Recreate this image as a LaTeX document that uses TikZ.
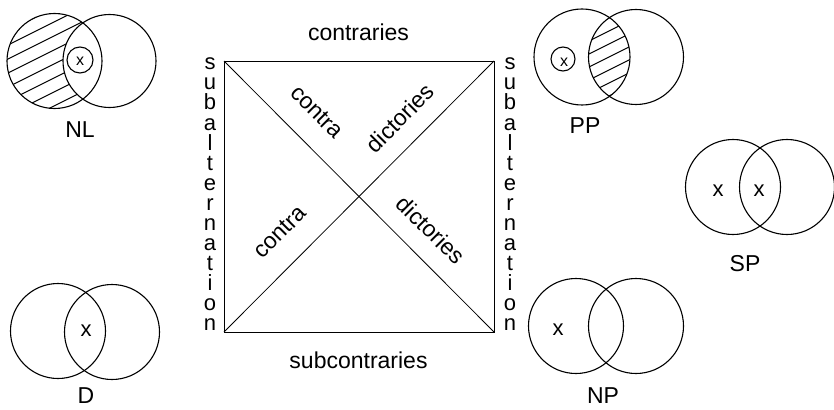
\documentclass[tikz,border=0pt]{standalone}
\usepackage{fontspec}
\setmainfont{Liberation Sans}
\begin{document}
\begin{tikzpicture}[x=1pt,y=-1pt,
  venn/.style={line width=1.1pt},
  hatchline/.style={line width=1.1pt},
  sqline/.style={line width=0.8pt},
  lbl/.style={inner sep=0pt, font=\fontsize{23}{24}\selectfont},
  mark x/.style={inner sep=0pt, font=\fontsize{22}{24}\selectfont},
  vlet/.style={inner sep=0pt, anchor=base, text height=13pt, text depth=0pt, font=\fontsize{22}{24}\selectfont}]
\useasboundingbox (0,0) rectangle (834,409);

% ---------- square of opposition ----------
\coordinate (TL) at (224,61);
\coordinate (TR) at (494,61);
\coordinate (BR) at (494,332);
\coordinate (BL) at (224,332);
\draw[sqline] (TL) -- (TR) -- (BR) -- (BL) -- cycle;
\draw[sqline] (TL) -- (BR);
\draw[sqline] (BL) -- (TR);

\node[lbl] (contraries) at (358.5,32) {contraries};
\node[lbl] (subcontraries) at (358.5,360) {subcontraries};
\node[lbl, rotate=-45] (contraA) at (317,112) {contra};
\node[lbl, rotate=45] (dictA) at (400,118) {dictories};
\node[lbl, rotate=45] (contraB) at (280,232) {contra};
\node[lbl, rotate=-45] (dictB) at (431,230) {dictories};

\foreach \c [count=\i from 0] in {s,u,b,a,l,t,e,r,n,a,t,i,o,n}{
  \node[vlet] (subL\i) at (210,70+20*\i) {\c};
  \node[vlet] (subR\i) at (510,70+20*\i) {\c};
}

% ---------- NL ----------
\begin{scope}
  \clip (54.5,61) circle (47.5);
  \foreach \k in {-7,...,7}
    \draw[hatchline] (0,61+14*\k+30) -- (120,61+14*\k-30);
\end{scope}
\fill[white] (109.5,61) circle (46.5);
\draw[venn] (54.5,61) circle (47.5);
\draw[venn] (109.5,61) circle (46.5);
\draw[venn] (80,60) circle (13);
\node[inner sep=0pt, font=\fontsize{16}{18}\selectfont] (nlx) at (80,61) {x};
\node[lbl] (NL) at (80,130) {NL};

% ---------- PP ----------
\begin{scope}
  \clip (582,57) circle (48);
  \clip (636,57) circle (47.5);
  \foreach \k in {-7,...,7}
    \draw[hatchline] (549,57+13*\k+30) -- (669,57+13*\k-30);
\end{scope}
\draw[venn] (582,57) circle (48);
\draw[venn] (636,57) circle (47.5);
\draw[venn] (563,59) circle (12);
\node[inner sep=0pt, font=\fontsize{16}{18}\selectfont] (ppx) at (564,62) {x};
\node[lbl] (PP) at (585,126) {PP};

% ---------- SP ----------
\draw[venn] (733,187) circle (47.5);
\draw[venn] (787,187) circle (47.5);
\node[mark x] (spx1) at (718,191) {x};
\node[mark x] (spx2) at (759,191) {x};
\node[lbl] (SP) at (745,264) {SP};

% ---------- D ----------
\draw[venn] (58,331) circle (47.5);
\draw[venn] (112,332) circle (47.5);
\node[mark x] (dx) at (86,331) {x};
\node[lbl] (D) at (86,396) {D};

% ---------- NP ----------
\draw[venn] (576,326) circle (47.5);
\draw[venn] (636,326) circle (47.5);
\node[mark x] (npx) at (558,330) {x};
\node[lbl] (NP) at (603,396) {NP};
\end{tikzpicture}
\end{document}
